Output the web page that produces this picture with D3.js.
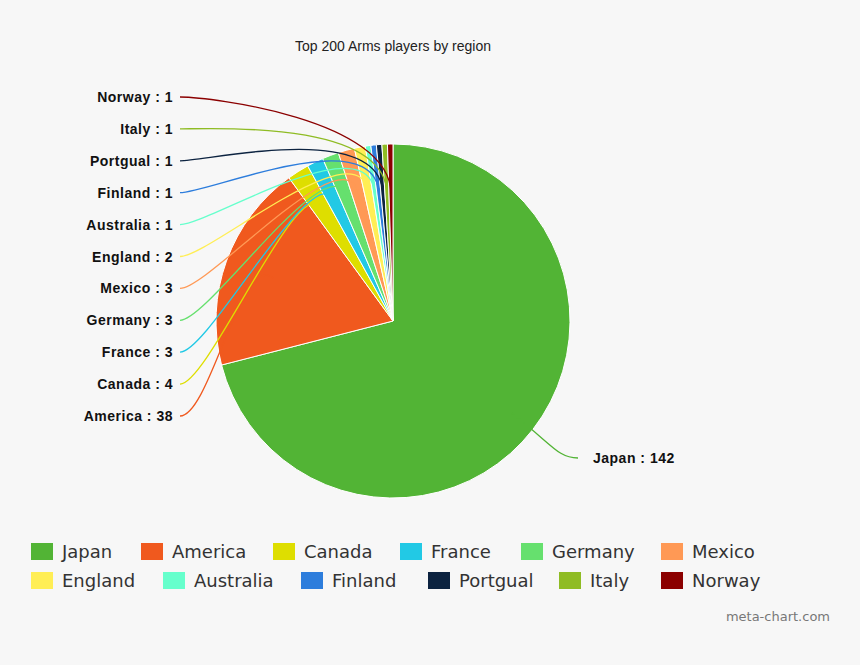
<!DOCTYPE html>
<html><head><meta charset="utf-8">
<script src="https://cdn.jsdelivr.net/npm/d3@7"></script>
<style>body{margin:0;background:#f7f7f7}</style></head>
<body><div id="chart"></div>
<script>
const regions = ["Japan","America","Canada","France","Germany","Mexico","England","Australia","Finland","Portgual","Italy","Norway"];
const players = [142,38,4,3,3,3,2,1,1,1,1,1];
const colors = ["#52b435","#f0591e","#dede00","#22c9e5","#66e06e","#ff9955","#ffee55","#66ffcc","#2d7ddc","#0c2340","#8fbc24","#8b0000"];
const labelNames = ["Japan","America","Canada","France ","Germany","Mexico","England","Australia","Finland","Portgual","Italy","Norway"];

const W = 860, H = 665, cx = 393, cy = 321, R = 177;
const svg = d3.select("#chart").append("svg").attr("width", W).attr("height", H)
  .style("background", "#f7f7f7").style("font-family", "Liberation Sans, Arial, sans-serif");

svg.append("text").attr("x", 393).attr("y", 51).attr("text-anchor", "middle")
  .attr("font-size", 14).attr("fill", "#222").text("Top 200 Arms players by region");

const pie = d3.pie().sort(null).value(d => d)(players);
const arc = d3.arc().innerRadius(0).outerRadius(R);
const g = svg.append("g").attr("transform", `translate(${cx},${cy})`);
g.selectAll("path.slice").data(pie).join("path")
  .attr("d", arc).attr("fill", (d, i) => colors[i]).attr("stroke", "#fff").attr("stroke-width", 1);

// label positions: left side stacked from bottom (America) to top (Norway)
const yLabel = d3.scaleLinear().domain([1, 11]).range([420, 101]);
pie.forEach((d, i) => {
  const mid = (d.startAngle + d.endAngle) / 2;
  const px = Math.sin(mid) * R * 0.72, py = -Math.cos(mid) * R * 0.72;
  let lx, ly, anchor, tx;
  if (i === 0) { lx = 578 - cx; ly = 458 - cy; anchor = "start"; tx = lx + 15; }
  else { lx = 180 - cx; ly = yLabel(i) - 4 - cy; anchor = "end"; tx = lx - 7; }
  const ox = Math.sin(mid) * (R + 25), oy = -Math.cos(mid) * (R + 25);
  const path = d3.path();
  if (i === 0) {
    path.moveTo(Math.sin(mid) * R * 0.85, -Math.cos(mid) * R * 0.85);
    path.bezierCurveTo(ox, oy, lx - 20, ly, lx, ly);
  } else {
    path.moveTo(lx, ly);
    path.bezierCurveTo(lx + 30, ly, ox * 0.8, oy, px, py);
  }
  g.append("path").attr("d", path.toString()).attr("fill", "none")
    .attr("stroke", colors[i]).attr("stroke-width", 1.3);
  g.append("text").attr("x", tx).attr("y", ly + 5).attr("text-anchor", anchor)
    .attr("font-size", 14).attr("font-weight", "bold").attr("fill", "#111")
    .attr("letter-spacing", 0.5).text(labelNames[i] + " : " + players[i]);
});

// legend
const legX = [[31,141,273,400,521,661],[31,163,301,428,559,661]];
regions.forEach((r, i) => {
  const row = Math.floor(i / 6), col = i % 6;
  const x = legX[row][col], y = 543 + row * 29;
  svg.append("rect").attr("x", x).attr("y", y).attr("width", 22).attr("height", 17).attr("fill", colors[i]);
  svg.append("text").attr("x", x + 31).attr("y", y + 15).attr("font-size", 18)
    .attr("font-family", "DejaVu Sans, sans-serif").attr("fill", "#333").text(r);
});

svg.append("text").attr("x", 830).attr("y", 621).attr("text-anchor", "end")
  .attr("font-size", 13).attr("fill", "#777").attr("font-family", "DejaVu Sans, sans-serif").text("meta-chart.com");
</script></body></html>
